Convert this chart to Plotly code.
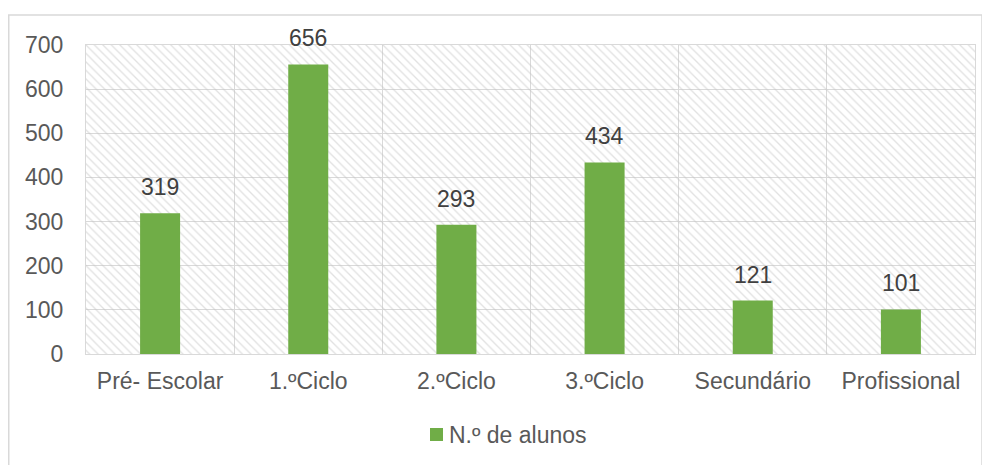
import plotly.graph_objects as go

categories = ["Pré- Escolar", "1.ºCiclo", "2.ºCiclo", "3.ºCiclo", "Secundário", "Profissional"]
alunos = [319, 656, 293, 434, 121, 101]
y_ticks = [0, 100, 200, 300, 400, 500, 600, 700]
series_name = "N.º de alunos"

FONT = "Liberation Sans, Arial, sans-serif"
GRID = "#d9d9d9"
GREEN = "#70AD47"
SIZE = 23

# figure is offset by the page's 8px body margin
W, H = 982, 457
L, T, R, B = 78, 37, 15, 111
PW, PH = W - L - R, H - T - B


def px(x):  # page x -> paper
    return (x - 8 - L) / PW


def py(y):  # page y -> paper
    return (H - B - (y - 8)) / PH


fig = go.Figure()

# hatched plot-area background (decoration on hidden axes)
fig.add_trace(go.Scatter(
    x=[0, 1, 1, 0, 0], y=[0, 0, 1, 1, 0], mode="lines",
    line=dict(width=0), fill="toself", fillcolor="rgba(0,0,0,0)",
    fillpattern=dict(shape="\\", fgcolor="#c4c4c4", bgcolor="rgba(0,0,0,0)", size=6, solidity=0.22),
    hoverinfo="skip", showlegend=False, xaxis="x", yaxis="y",
))

fig.add_trace(go.Bar(
    x=categories, y=alunos, name=series_name,
    marker=dict(color=GREEN, line=dict(width=0)),
    width=0.27, showlegend=False,
    xaxis="x2", yaxis="y2",
))

# value labels above the bars
value_labels = [
    dict(text=str(v), x=c, y=v, xref="x2", yref="y2", xanchor="center", yanchor="bottom",
         yshift=11, showarrow=False, font=dict(size=SIZE, color="#404040", family=FONT))
    for c, v in zip(categories, alunos)
]

fig.update_layout(
    width=W, height=H,
    margin=dict(l=L, r=R, t=T, b=B, autoexpand=False),
    paper_bgcolor="white", plot_bgcolor="white",
    font=dict(family=FONT, size=SIZE, color="#595959"),
    showlegend=False,
    xaxis=dict(range=[0, 1], visible=False, fixedrange=True),
    yaxis=dict(range=[0, 1], visible=False, fixedrange=True),
    xaxis2=dict(type="category", overlaying="x", anchor="y2", tickson="boundaries",
                showgrid=True, gridcolor=GRID, gridwidth=1,
                showline=True, linecolor=GRID, linewidth=1, mirror=True,
                ticks="", ticklabelstandoff=6, tickfont=dict(size=SIZE, color="#595959")),
    yaxis2=dict(overlaying="y", anchor="x2", range=[0, 700], tickvals=y_ticks,
                showgrid=True, gridcolor=GRID, gridwidth=1,
                showline=True, linecolor=GRID, linewidth=1, mirror=True,
                zeroline=False, ticks="", ticklabelstandoff=17,
                tickfont=dict(size=SIZE, color="#595959")),
    bargap=0.73,
    shapes=[
        dict(type="rect", xref="paper", yref="paper",
             x0=px(8.75), x1=px(982), y0=py(470), y1=py(15),
             line=dict(color=GRID, width=1.5), fillcolor="rgba(0,0,0,0)", layer="below"),
        # legend key
        dict(type="rect", xref="paper", yref="paper",
             x0=px(430), x1=px(443), y0=py(441), y1=py(428),
             line=dict(width=0), fillcolor=GREEN),
    ],
    annotations=value_labels + [
        dict(text=series_name, xref="paper", yref="paper", x=px(447), y=py(434.5),
             xanchor="left", yanchor="middle", showarrow=False,
             font=dict(size=SIZE, color="#595959", family=FONT)),
    ],
)

fig.write_html("out.html")
